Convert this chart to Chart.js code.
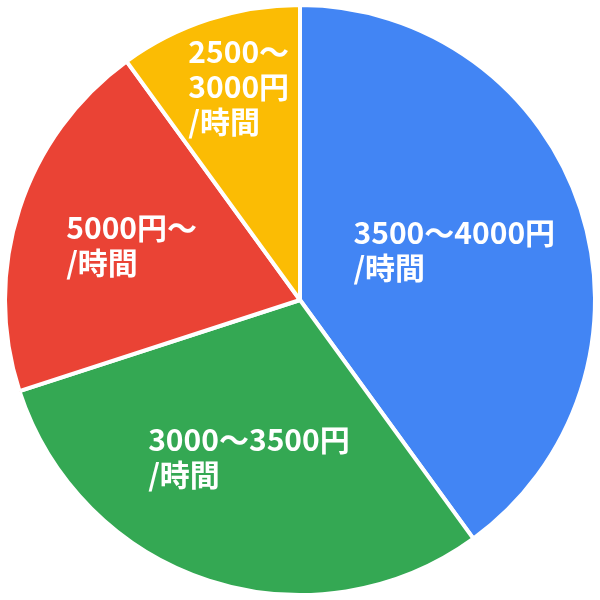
<!DOCTYPE html>
<html>
<head>
<meta charset="utf-8">
<script src="https://cdn.jsdelivr.net/npm/chart.js@4"></script>
<style>
  html, body { margin: 0; padding: 0; background: #fff; }
  #wrap { width: 600px; height: 600px; }
</style>
</head>
<body>
<div id="wrap"><canvas id="chart"></canvas></div>
<script>
// 時給の分布（円グラフ）
const categories = [
  ['3500〜4000円', '/時間'],
  ['3000〜3500円', '/時間'],
  ['5000円〜', '/時間'],
  ['2500〜', '3000円', '/時間']
];
const shares = [40, 30, 20, 10];
const colors = ['#4285F4', '#34A853', '#EA4335', '#FBBC04'];

// スライス内ラベル描画（datalabels 代わり）
const sliceLabels = {
  id: 'sliceLabels',
  afterDatasetsDraw(chart, args, opts) {
    const ctx = chart.ctx;
    const meta = chart.getDatasetMeta(0);
    ctx.save();
    ctx.fillStyle = '#fff';
    ctx.font = 'bold 30px "Noto Sans CJK JP", "Noto Sans", sans-serif';
    ctx.textBaseline = 'middle';
    ctx.textAlign = 'left';
    meta.data.forEach((arc, i) => {
      const p = arc.getProps(['x', 'y', 'startAngle', 'endAngle', 'outerRadius'], true);
      const mid = (p.startAngle + p.endAngle) / 2;
      const r = p.outerRadius * opts.radius[i];
      const cx = p.x + Math.cos(mid) * r;
      const cy = p.y + Math.sin(mid) * r;
      const lines = chart.data.labels[i];
      const w = Math.max(...lines.map(l => ctx.measureText(l).width));
      const lh = opts.lineHeight;
      const top = cy - (lines.length - 1) * lh / 2;
      lines.forEach((l, k) => ctx.fillText(l, cx - w / 2 + opts.dx[i], top + k * lh));
    });
    ctx.restore();
  }
};

new Chart(document.getElementById('chart'), {
  type: 'pie',
  data: {
    labels: categories,
    datasets: [{
      data: shares,
      backgroundColor: colors,
      borderColor: '#fff',
      borderWidth: 4
    }]
  },
  options: {
    responsive: true,
    maintainAspectRatio: false,
    animation: false,
    layout: { padding: 3 },
    plugins: {
      legend: { display: false },
      tooltip: { enabled: false },
      sliceLabels: { radius: [0.55, 0.56, 0.6, 0.76], dx: [0, 0, 0, 8], lineHeight: 35 }
    }
  },
  plugins: [sliceLabels]
});
</script>
</body>
</html>
